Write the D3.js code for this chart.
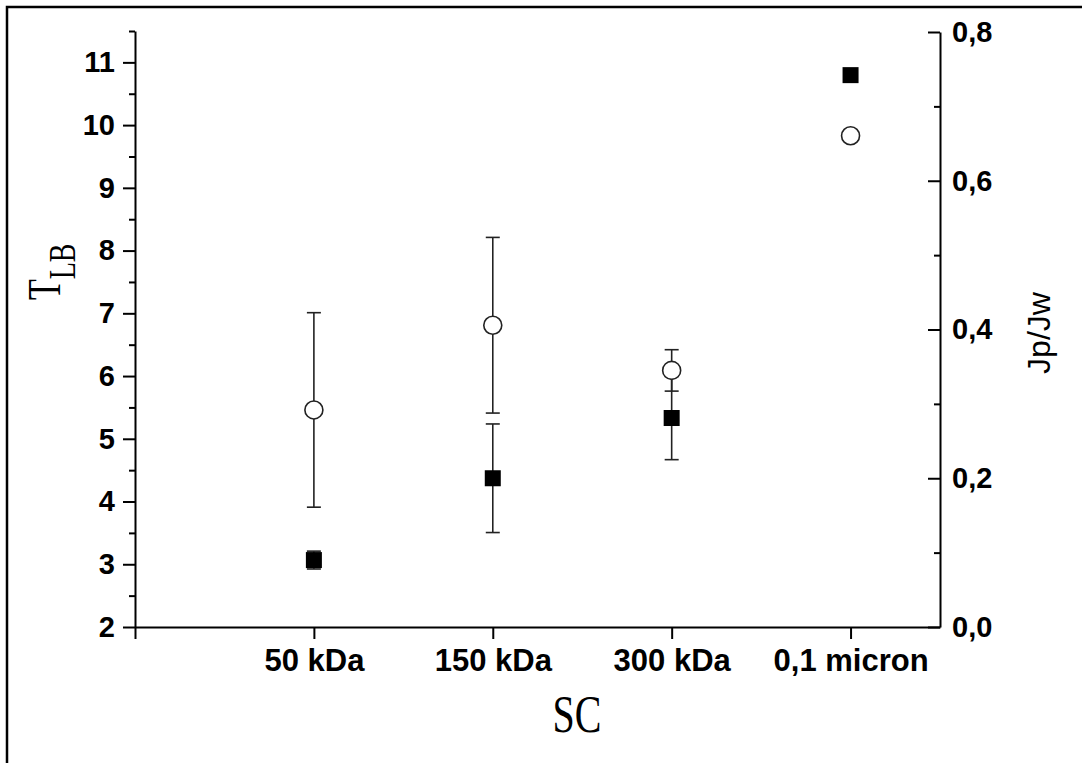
<!DOCTYPE html>
<html>
<head>
<meta charset="utf-8">
<style>
body { margin: 0; background: #fff; }
.axis path, .axis line { stroke: #000; stroke-width: 2; }
.axis text { font-family: "Liberation Sans", Arial, sans-serif; font-weight: bold; fill: #000; }
.err { stroke: #222; stroke-width: 1.6; fill: none; }
</style>
<title>TLB and Jp/Jw by SC</title>
</head>
<body>
<svg width="1082" height="763"></svg>
<script src="https://d3js.org/d3.v7.min.js"></script>
<script>
// data
var categories = ["50 kDa", "150 kDa", "300 kDa", "0,1 micron"];
var tlb = [5.46, 6.81, 6.09, 9.83];        // open circles, left axis
var tlbErr = [1.55, 1.40, 0.33, 0];
var jpjw = [0.090, 0.200, 0.281, 0.742];   // filled squares, right axis
var jpjwErr = [0.012, 0.073, 0.056, 0];
var leftTicks = [2, 3, 4, 5, 6, 7, 8, 9, 10, 11];
var rightTicks = [0, 0.2, 0.4, 0.6, 0.8];

var svg = d3.select("svg"),
    width = +svg.attr("width"),
    height = +svg.attr("height");

svg.append("rect").attr("width", width).attr("height", height).attr("fill", "#fff");

// frame, only left and top show
svg.append("rect")
    .attr("x", 7).attr("y", 7)
    .attr("width", width + 20).attr("height", height + 20)
    .attr("fill", "none").attr("stroke", "#000").attr("stroke-width", 2.5);

var x = d3.scaleLinear().domain([0, 4.5]).range([135, 940]);
var yL = d3.scaleLinear().domain([2, 11.5]).range([627, 31]);
var yR = d3.scaleLinear().domain([0, 0.8]).range([627, 32]);

var comma = d3.formatLocale({decimal: ",", thousands: ".", grouping: [3], currency: ["", ""]}).format(".1f");

// x axis
var gx = svg.append("g").attr("class", "axis")
    .attr("transform", "translate(0," + yL.range()[0] + ")")
    .call(d3.axisBottom(x)
        .tickValues([0, 1, 2, 3, 4])
        .tickSizeInner(12).tickSizeOuter(0).tickPadding(10)
        .tickFormat(function(d) { return d ? categories[d - 1] : ""; }));
gx.selectAll("text").style("font-size", "31px");

// left axis
var gl = svg.append("g").attr("class", "axis")
    .attr("transform", "translate(" + x(0) + ",0)")
    .call(d3.axisLeft(yL).tickValues(leftTicks).tickSizeInner(12).tickSizeOuter(0).tickPadding(8));
gl.selectAll("text").style("font-size", "29px");
svg.append("g").attr("class", "axis")
    .attr("transform", "translate(" + x(0) + ",0)")
    .call(d3.axisLeft(yL).tickValues(d3.range(2.5, 12, 1)).tickSize(6).tickFormat(""))
    .select(".domain").remove();

// right axis
var gr = svg.append("g").attr("class", "axis")
    .attr("transform", "translate(" + x(4.5) + ",0)")
    .call(d3.axisRight(yR).tickValues(rightTicks).tickSizeInner(-12).tickSizeOuter(0).tickPadding(12)
        .tickFormat(comma));
gr.selectAll("text").style("font-size", "29px");
svg.append("g").attr("class", "axis")
    .attr("transform", "translate(" + x(4.5) + ",0)")
    .call(d3.axisRight(yR).tickValues([0.1, 0.3, 0.5, 0.7]).tickSizeInner(-6).tickSizeOuter(0).tickFormat(""))
    .select(".domain").remove();

// axis titles
var tl = svg.append("text")
    .attr("transform", "translate(60,300) rotate(-90) scale(1,1.35)")
    .style("font-family", "'Liberation Serif', 'Times New Roman', serif")
    .attr("fill", "#000");
tl.append("tspan").style("font-size", "34px").text("T");
tl.append("tspan").style("font-size", "28px").attr("dy", 11).text("LB");

svg.append("text")
    .attr("transform", "translate(1050,333) rotate(-90)")
    .attr("text-anchor", "middle")
    .style("font-family", "'Liberation Sans', Arial, sans-serif")
    .style("font-size", "32px")
    .attr("fill", "#000")
    .text("Jp/Jw");

svg.append("text")
    .attr("transform", "translate(577,732) scale(1,1.3)")
    .attr("text-anchor", "middle")
    .style("font-family", "'Liberation Serif', 'Times New Roman', serif")
    .style("font-size", "40px")
    .attr("fill", "#000")
    .text("SC");

// error bars
function errBars(vals, errs, scale) {
    var rows = vals.map(function(v, i) { return {i: i, v: v, e: errs[i]}; })
        .filter(function(d) { return d.e > 0; });
    var g = svg.append("g").attr("class", "err");
    var eb = g.selectAll("g").data(rows).enter().append("g");
    eb.append("line")
        .attr("x1", function(d) { return x(d.i + 1); })
        .attr("x2", function(d) { return x(d.i + 1); })
        .attr("y1", function(d) { return scale(d.v - d.e); })
        .attr("y2", function(d) { return scale(d.v + d.e); });
    [-1, 1].forEach(function(s) {
        eb.append("line")
            .attr("x1", function(d) { return x(d.i + 1) - 7; })
            .attr("x2", function(d) { return x(d.i + 1) + 7; })
            .attr("y1", function(d) { return scale(d.v + s * d.e); })
            .attr("y2", function(d) { return scale(d.v + s * d.e); });
    });
}
errBars(tlb, tlbErr, yL);
errBars(jpjw, jpjwErr, yR);

svg.append("g").selectAll("rect")
    .data(jpjw)
    .enter().append("rect")
    .attr("x", function(d, i) { return x(i + 1) - 8; })
    .attr("y", function(d) { return yR(d) - 8; })
    .attr("width", 16).attr("height", 16)
    .attr("fill", "#000");

svg.append("g").selectAll("circle")
    .data(tlb)
    .enter().append("circle")
    .attr("cx", function(d, i) { return x(i + 1); })
    .attr("cy", function(d) { return yL(d); })
    .attr("r", 9)
    .attr("fill", "#fff")
    .attr("stroke", "#222")
    .attr("stroke-width", 1.6);
</script>
</body>
</html>
